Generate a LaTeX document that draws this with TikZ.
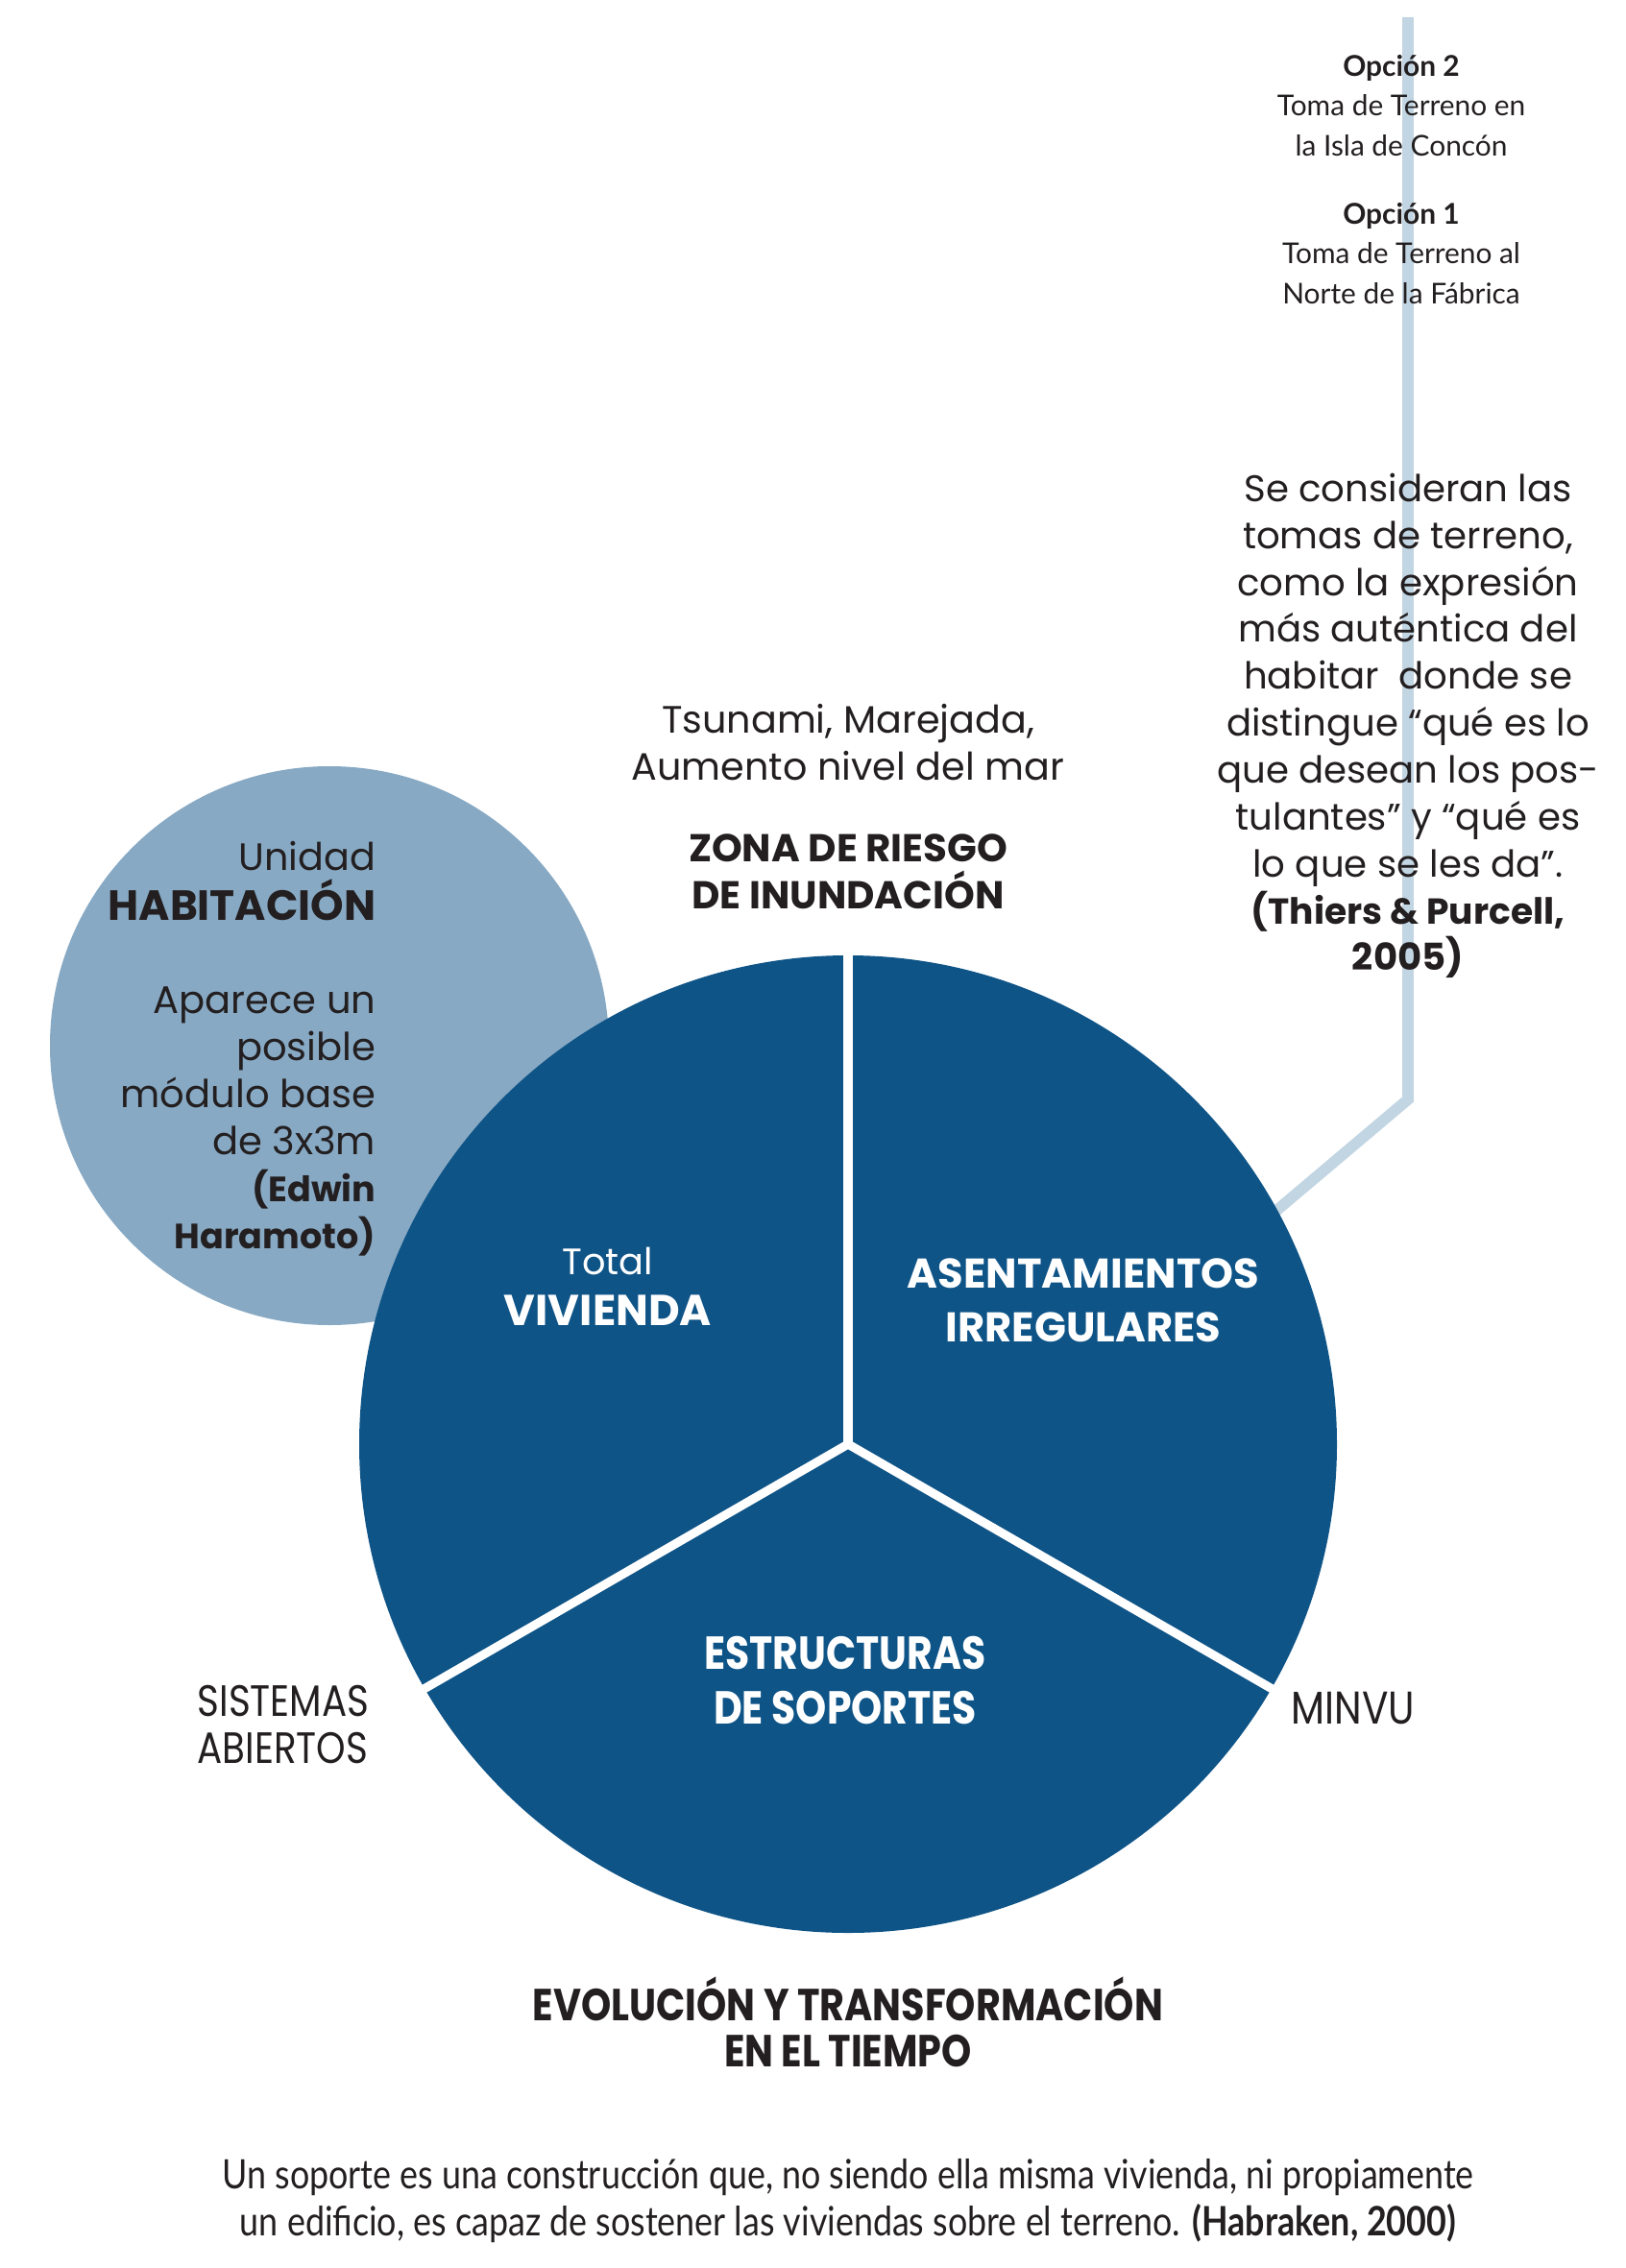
\documentclass[tikz,border=0pt]{standalone}
\usepackage{fontspec}
\setmainfont{Poppins}
\newfontfamily\humfont{Lato}
\newfontfamily\humcond[FakeStretch=0.85]{Lato}
\newfontfamily\condfont[FakeStretch=0.85]{Poppins}
\definecolor{piedark}{HTML}{0F5487}
\definecolor{unitblue}{HTML}{87A9C4}
\definecolor{leadblue}{HTML}{C2D5E3}
\definecolor{inkgray}{HTML}{231F20}
\begin{document}
\begin{tikzpicture}

      \tikzset{disc/.style={circle, inner sep=0pt, draw=none},
               divider/.style={white, line width=2.6pt},
               leader/.style={leadblue, line width=3.3pt},
               txt/.style={inner sep=0pt, text=inkgray, align=center},
               wtxt/.style={inner sep=0pt, text=white, align=center}}
      \useasboundingbox (0,0) rectangle (16.92,-23.62);
%% Circles
      	\node[disc, fill=unitblue, minimum size=5.82cm] (unidad) at (3.43,-10.89) {};
      	\coordinate (lntop) at (14.66,-0.18);
      	\coordinate (lnbend) at (14.66,-11.45);
      	\coordinate (lnend) at (12.60,-13.19);
      	\draw[leader] (lntop) -- (lnbend) -- (lnend);
      	\node[disc, fill=piedark, minimum size=10.18cm] (pie) at (8.83,-15.04) {};
%Dividers
		\draw[divider] (pie.center) -- (pie.north);
		\draw[divider] (pie.center) -- (pie.210);
		\draw[divider] (pie.center) -- (pie.330);
%% Texts
      	\node[txt, font=\humfont\fontsize{8.5}{11.7}\selectfont] (op2) at (14.59,-1.10) {{\bfseries Opción 2}\\Toma de Terreno en\\la Isla de Concón};
      	\node[txt, font=\humfont\fontsize{8.5}{11.7}\selectfont] (op1) at (14.59,-2.64) {{\bfseries Opción 1}\\Toma de Terreno al\\Norte de la Fábrica};
      	\node[txt, font=\fontsize{11}{13.9}\selectfont] (tomas) at (14.66,-7.56) {Se consideran las\\tomas de terreno,\\como la expresión\\más auténtica del\\habitar\ \ donde se\\distingue “qué es lo\\que desean los pos-\\tulantes” y “qué es\\lo que se les da”.\\{\bfseries\fontsize{10.7}{13.9}\selectfont (Thiers \& Purcell,}\\{\bfseries 2005)}};
      	\node[txt, font=\fontsize{11.3}{13.7}\selectfont] (tsunami) at (8.83,-7.73) {Tsunami, Marejada,\\Aumento nivel del mar};
      	\node[txt, font=\bfseries\fontsize{11.5}{13.9}\selectfont] (zona) at (8.83,-9.08) {ZONA DE RIESGO\\DE INUNDACIÓN};
      	\node[txt, align=right, anchor=east, font=\fontsize{11.3}{14.8}\selectfont] (unidadtxt) at (3.92,-9.18) {Unidad\\{\bfseries\fontsize{12.5}{14.8}\selectfont HABITACIÓN}};
      	\node[txt, align=right, anchor=east, font=\fontsize{11.4}{13.9}\selectfont] (modulo) at (3.92,-11.68) {Aparece un\\posible\\módulo base\\de 3x3m\\{\bfseries\fontsize{10.4}{13.9}\selectfont (Edwin}\\{\bfseries\fontsize{10.4}{13.9}\selectfont Haramoto)}};
      	\node[wtxt, font=\fontsize{10.9}{15}\selectfont] (vivienda) at (6.33,-13.40) {Total\\{\bfseries\fontsize{12.8}{15}\selectfont VIVIENDA}};
      	\node[wtxt, font=\bfseries\fontsize{12.3}{16}\selectfont] (asent) at (11.28,-13.54) {ASENTAMIENTOS\\IRREGULARES};
      	\node[wtxt, font=\condfont\bfseries\fontsize{13.7}{16}\selectfont] (soporte) at (8.80,-17.50) {ESTRUCTURAS\\DE SOPORTES};
      	\node[txt, align=left, anchor=west, font=\condfont\fontsize{13}{13.7}\selectfont] (sistemas) at (2.05,-17.96) {SISTEMAS\\ABIERTOS};
      	\node[txt, anchor=west, font=\condfont\fontsize{13.6}{13.7}\selectfont] (minvu) at (13.44,-17.79) {MINVU};
      	\node[txt, font=\condfont\bfseries\fontsize{13.3}{13.7}\selectfont] (evolucion) at (8.83,-21.06) {EVOLUCIÓN Y TRANSFORMACIÓN\\EN EL TIEMPO};
      	\node[txt, font=\humcond\fontsize{12}{13.7}\selectfont] (habraken) at (8.83,-22.92) {Un soporte es una construcción que, no siendo ella misma vivienda, ni propiamente\\un edificio, es capaz de sostener las viviendas sobre el terreno. {\bfseries (Habraken, 2000)}};

	\end{tikzpicture}
\end{document}
